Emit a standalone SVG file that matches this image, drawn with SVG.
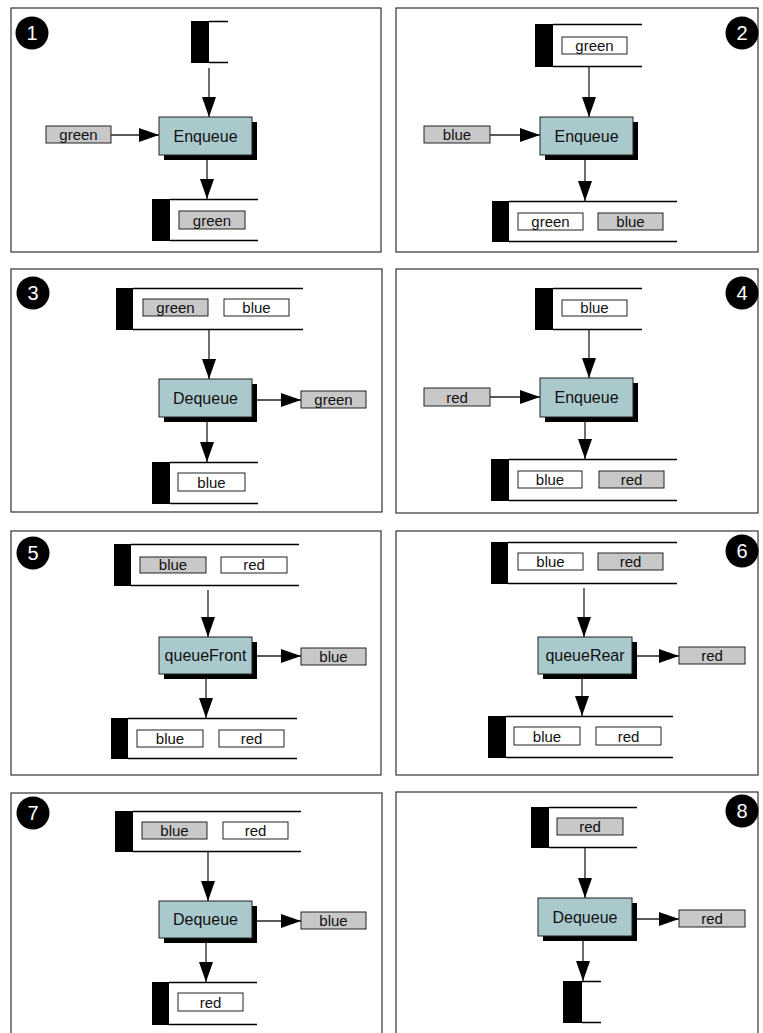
<svg xmlns="http://www.w3.org/2000/svg" width="763" height="1033" viewBox="0 0 763 1033">
<style>
.panel{fill:#fff;stroke:#333;stroke-width:1.2}
.bar{fill:#000}
.ql{stroke:#000;stroke-width:1.5;fill:none}
.shadow{fill:#000}
.box{fill:#a9c9cd;stroke:#222;stroke-width:1}
.bt{font-family:"Liberation Sans",Arial,sans-serif;font-size:16px;fill:#111;text-anchor:middle}
.ig{fill:#c8c8c8;stroke:#222;stroke-width:1}
.iw{fill:#fff;stroke:#222;stroke-width:1}
.it{font-family:"Liberation Sans",Arial,sans-serif;font-size:15px;fill:#111;text-anchor:middle}
.num{fill:#000}
.nt{font-family:"Liberation Sans",Arial,sans-serif;font-size:20px;fill:#fff;text-anchor:middle}
.conn{stroke:#222;stroke-width:1.3;fill:none;marker-end:url(#ah)}
</style>
<defs>
<marker id="ah" markerUnits="userSpaceOnUse" viewBox="0 0 20 14" refX="20" refY="7" markerWidth="20" markerHeight="14" orient="auto">
<path d="M0,0 L20,7 L0,14 z" fill="#000"/>
</marker>
</defs>
<g id="panels">
<rect class="panel" x="11" y="8" width="370" height="244"/>
<rect class="panel" x="396" y="8" width="362" height="244"/>
<rect class="panel" x="11" y="269" width="371" height="243"/>
<rect class="panel" x="396" y="269" width="362" height="244"/>
<rect class="panel" x="11" y="531" width="370" height="244"/>
<rect class="panel" x="396" y="531" width="362" height="244"/>
<rect class="panel" x="11" y="793" width="371" height="260"/>
<rect class="panel" x="396" y="792" width="362" height="260"/>
</g>
<g id="connectors">
<line class="conn" x1="209" y1="68" x2="209" y2="117"/>
<line class="conn" x1="111" y1="135" x2="159" y2="135"/>
<line class="conn" x1="207" y1="155" x2="207" y2="199"/>
<line class="conn" x1="589" y1="67" x2="589" y2="117"/>
<line class="conn" x1="490" y1="135" x2="540" y2="135"/>
<line class="conn" x1="585" y1="155" x2="585" y2="201"/>
<line class="conn" x1="209" y1="330" x2="209" y2="379"/>
<line class="conn" x1="252" y1="400" x2="301" y2="400"/>
<line class="conn" x1="207" y1="417" x2="207" y2="462"/>
<line class="conn" x1="589" y1="330" x2="589" y2="378"/>
<line class="conn" x1="490" y1="397" x2="540" y2="397"/>
<line class="conn" x1="585" y1="417" x2="585" y2="459"/>
<line class="conn" x1="208" y1="590" x2="208" y2="637"/>
<line class="conn" x1="252" y1="656" x2="301" y2="656"/>
<line class="conn" x1="206" y1="674" x2="206" y2="718"/>
<line class="conn" x1="584" y1="588" x2="584" y2="637"/>
<line class="conn" x1="632" y1="656" x2="679" y2="656"/>
<line class="conn" x1="582" y1="674" x2="582" y2="716"/>
<line class="conn" x1="208" y1="852" x2="208" y2="901"/>
<line class="conn" x1="252" y1="921" x2="301" y2="921"/>
<line class="conn" x1="206" y1="938" x2="206" y2="982"/>
<line class="conn" x1="585" y1="848" x2="585" y2="898"/>
<line class="conn" x1="632" y1="919" x2="679" y2="919"/>
<line class="conn" x1="583" y1="936" x2="583" y2="981"/>
</g>
<!-- Panel 1 -->
<g id="p1-num"><circle class="num" cx="32" cy="33" r="16.5"/><text class="nt" x="32" y="40">1</text></g>
<g id="p1-qin"><rect class="bar" x="191" y="21" width="18" height="42"/><path class="ql" d="M209,21.5H228M209,62.5H228"/></g>
<g id="p1-op"><rect class="shadow" x="164" y="122" width="93" height="38"/><rect class="box" x="159" y="117" width="93" height="38"/><text class="bt" x="205.5" y="141.5">Enqueue</text></g>
<g id="p1-in"><rect class="ig" x="46" y="126" width="65" height="17"/><text class="it" x="78.5" y="139.5">green</text></g>
<g id="p1-qout"><rect class="bar" x="152" y="199" width="18" height="42"/><path class="ql" d="M170,199.5H258M170,240.5H258"/><rect class="ig" x="179" y="211" width="66" height="18"/><text class="it" x="212" y="225.5">green</text></g>
<!-- Panel 2 -->
<g id="p2-num"><circle class="num" cx="742" cy="33" r="16.5"/><text class="nt" x="742" y="40">2</text></g>
<g id="p2-qin"><rect class="bar" x="535" y="24" width="18" height="43"/><path class="ql" d="M553,24.5H642M553,66.5H642"/><rect class="iw" x="562" y="37" width="65" height="17"/><text class="it" x="594.5" y="50.5">green</text></g>
<g id="p2-op"><rect class="shadow" x="545" y="122" width="93" height="38"/><rect class="box" x="540" y="117" width="93" height="38"/><text class="bt" x="586.5" y="141.5">Enqueue</text></g>
<g id="p2-in"><rect class="ig" x="424" y="126" width="66" height="17"/><text class="it" x="457" y="139.5">blue</text></g>
<g id="p2-qout"><rect class="bar" x="492" y="201" width="17" height="41"/><path class="ql" d="M509,201.5H677M509,241.5H677"/><rect class="iw" x="518" y="213" width="65" height="17"/><text class="it" x="550.5" y="226.5">green</text><rect class="ig" x="598" y="213" width="65" height="17"/><text class="it" x="630.5" y="226.5">blue</text></g>
<!-- Panel 3 -->
<g id="p3-num"><circle class="num" cx="33" cy="293" r="16.5"/><text class="nt" x="33" y="300">3</text></g>
<g id="p3-qin"><rect class="bar" x="116" y="288" width="17" height="42"/><path class="ql" d="M133,288.5H303M133,329.5H303"/><rect class="ig" x="143" y="299" width="65" height="17"/><text class="it" x="175.5" y="312.5">green</text><rect class="iw" x="224" y="299" width="65" height="17"/><text class="it" x="256.5" y="312.5">blue</text></g>
<g id="p3-op"><rect class="shadow" x="164" y="384" width="93" height="38"/><rect class="box" x="159" y="379" width="93" height="38"/><text class="bt" x="205.5" y="403.5">Dequeue</text></g>
<g id="p3-out"><rect class="ig" x="301" y="391" width="65" height="17"/><text class="it" x="333.5" y="404.5">green</text></g>
<g id="p3-qout"><rect class="bar" x="152" y="462" width="18" height="42"/><path class="ql" d="M170,462.5H258M170,503.5H258"/><rect class="iw" x="178" y="473" width="67" height="18"/><text class="it" x="211.5" y="487.5">blue</text></g>
<!-- Panel 4 -->
<g id="p4-num"><circle class="num" cx="742" cy="293" r="16.5"/><text class="nt" x="742" y="300">4</text></g>
<g id="p4-qin"><rect class="bar" x="535" y="288" width="18" height="42"/><path class="ql" d="M553,288.5H642M553,329.5H642"/><rect class="iw" x="562" y="300" width="65" height="16"/><text class="it" x="594.5" y="313">blue</text></g>
<g id="p4-op"><rect class="shadow" x="545" y="383" width="93" height="39"/><rect class="box" x="540" y="378" width="93" height="39"/><text class="bt" x="586.5" y="403">Enqueue</text></g>
<g id="p4-in"><rect class="ig" x="424" y="388" width="66" height="18"/><text class="it" x="457" y="402.5">red</text></g>
<g id="p4-qout"><rect class="bar" x="491" y="459" width="18" height="42"/><path class="ql" d="M509,459.5H677M509,500.5H677"/><rect class="iw" x="518" y="471" width="64" height="17"/><text class="it" x="550" y="484.5">blue</text><rect class="ig" x="599" y="471" width="65" height="17"/><text class="it" x="631.5" y="484.5">red</text></g>
<!-- Panel 5 -->
<g id="p5-num"><circle class="num" cx="33" cy="553" r="16.5"/><text class="nt" x="33" y="560">5</text></g>
<g id="p5-qin"><rect class="bar" x="114" y="544" width="17" height="42"/><path class="ql" d="M131,544.5H299M131,585.5H299"/><rect class="ig" x="140" y="557" width="66" height="16"/><text class="it" x="173" y="570">blue</text><rect class="iw" x="221" y="557" width="66" height="16"/><text class="it" x="254" y="570">red</text></g>
<g id="p5-op"><rect class="shadow" x="164" y="642" width="93" height="37"/><rect class="box" x="159" y="637" width="93" height="37"/><text class="bt" x="205.5" y="661">queueFront</text></g>
<g id="p5-out"><rect class="ig" x="301" y="648" width="65" height="17"/><text class="it" x="333.5" y="661.5">blue</text></g>
<g id="p5-qout"><rect class="bar" x="111" y="718" width="17" height="41"/><path class="ql" d="M128,718.5H297M128,758.5H297"/><rect class="iw" x="137" y="730" width="66" height="17"/><text class="it" x="170" y="743.5">blue</text><rect class="iw" x="219" y="730" width="65" height="17"/><text class="it" x="251.5" y="743.5">red</text></g>
<!-- Panel 6 -->
<g id="p6-num"><circle class="num" cx="742" cy="551" r="16.5"/><text class="nt" x="742" y="558">6</text></g>
<g id="p6-qin"><rect class="bar" x="491" y="542" width="17" height="42"/><path class="ql" d="M508,542.5H677M508,583.5H677"/><rect class="iw" x="518" y="553" width="65" height="17"/><text class="it" x="550.5" y="566.5">blue</text><rect class="ig" x="598" y="553" width="65" height="17"/><text class="it" x="630.5" y="566.5">red</text></g>
<g id="p6-op"><rect class="shadow" x="543" y="642" width="94" height="37"/><rect class="box" x="538" y="637" width="94" height="37"/><text class="bt" x="585" y="661">queueRear</text></g>
<g id="p6-out"><rect class="ig" x="679" y="647" width="66" height="17"/><text class="it" x="712" y="660.5">red</text></g>
<g id="p6-qout"><rect class="bar" x="488" y="716" width="18" height="42"/><path class="ql" d="M506,716.5H673M506,757.5H673"/><rect class="iw" x="514" y="727" width="66" height="18"/><text class="it" x="547" y="741.5">blue</text><rect class="iw" x="596" y="727" width="65" height="18"/><text class="it" x="628.5" y="741.5">red</text></g>
<!-- Panel 7 -->
<g id="p7-num"><circle class="num" cx="33" cy="813" r="16.5"/><text class="nt" x="33" y="820">7</text></g>
<g id="p7-qin"><rect class="bar" x="115" y="811" width="18" height="41"/><path class="ql" d="M133,811.5H301M133,851.5H301"/><rect class="ig" x="142" y="822" width="65" height="17"/><text class="it" x="174.5" y="835.5">blue</text><rect class="iw" x="223" y="822" width="65" height="17"/><text class="it" x="255.5" y="835.5">red</text></g>
<g id="p7-op"><rect class="shadow" x="164" y="906" width="93" height="37"/><rect class="box" x="159" y="901" width="93" height="37"/><text class="bt" x="205.5" y="925">Dequeue</text></g>
<g id="p7-out"><rect class="ig" x="301" y="912" width="65" height="17"/><text class="it" x="333.5" y="925.5">blue</text></g>
<g id="p7-qout"><rect class="bar" x="152" y="982" width="17" height="43"/><path class="ql" d="M169,982.5H257M169,1024.5H257"/><rect class="iw" x="178" y="993" width="65" height="18"/><text class="it" x="210.5" y="1007.5">red</text></g>
<!-- Panel 8 -->
<g id="p8-num"><circle class="num" cx="742" cy="811" r="16.5"/><text class="nt" x="742" y="818">8</text></g>
<g id="p8-qin"><rect class="bar" x="531" y="807" width="18" height="41"/><path class="ql" d="M549,807.5H637M549,847.5H637"/><rect class="ig" x="557" y="818" width="66" height="17"/><text class="it" x="590" y="831.5">red</text></g>
<g id="p8-op"><rect class="shadow" x="543" y="903" width="94" height="38"/><rect class="box" x="538" y="898" width="94" height="38"/><text class="bt" x="585" y="922.5">Dequeue</text></g>
<g id="p8-out"><rect class="ig" x="679" y="910" width="66" height="17"/><text class="it" x="712" y="923.5">red</text></g>
<g id="p8-qout"><rect class="bar" x="563" y="981" width="19" height="42"/><path class="ql" d="M582,981.5H601M582,1022.5H601"/></g>
</svg>
